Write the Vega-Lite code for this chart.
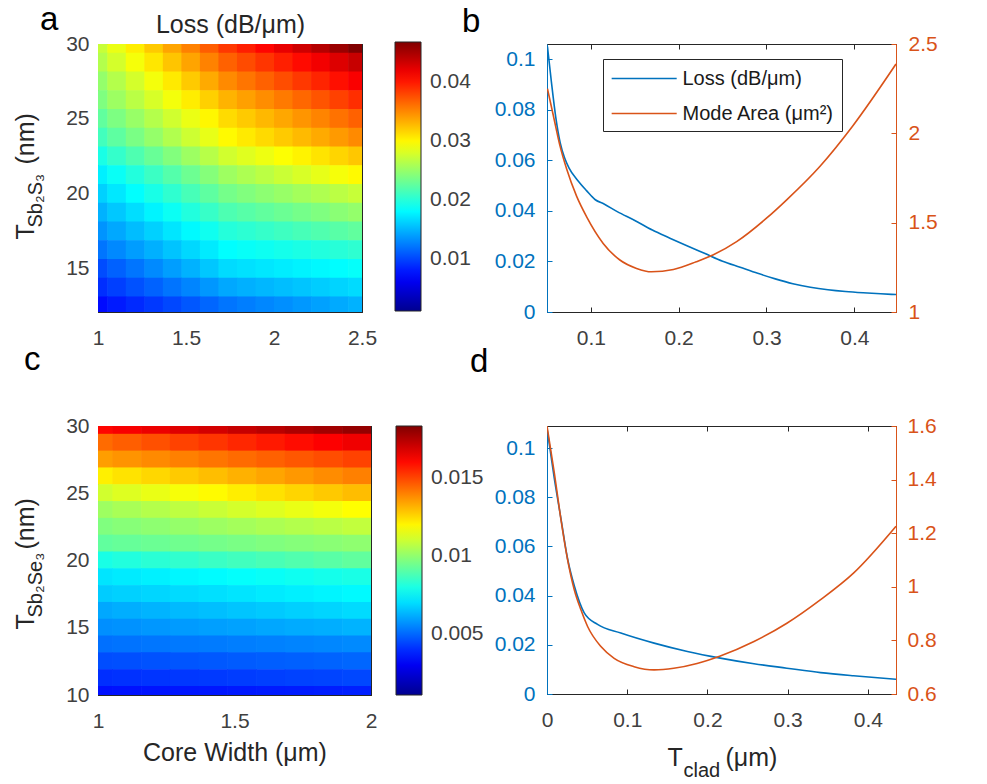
{
"$schema": "https://vega.github.io/schema/vega-lite/v6.json",
"background": "white",
"padding": {"left": 12, "top": 3, "right": 5, "bottom": 0},
"config": {
  "font": "Liberation Sans",
  "view": {"stroke": "#262626", "strokeWidth": 1},
  "axis": {"labelFont": "Liberation Sans", "labelFontSize": 21, "labelColor": "#404040", "titleFont": "Liberation Sans", "titleFontSize": 25, "titleColor": "#262626", "titleFontWeight": "normal", "grid": false, "domainColor": "#262626", "tickColor": "#262626", "tickSize": -5, "zindex": 1, "labelFlush": false, "labelOverlap": false},
  "legend": {"labelFont": "Liberation Sans"},
  "title": {"font": "Liberation Sans", "fontSize": 33, "fontWeight": "normal", "color": "#000000", "anchor": "start", "frame": "group", "baseline": "alphabetic"}
},
"columns": 2,
"align": "each",
"bounds": "flush",
"spacing": {"row": 114, "column": 176},
"resolve": {"scale": {"color": "independent"}, "legend": {"color": "independent"}},
"concat": [
{
  "width": 264, "height": 268,
  "title": {"text": "a", "dx": -58, "offset": -25},
  "data": {"values": [
{"w":1,"t":30,"v":0.02715},{"w":1.105,"t":30,"v":0.02878},{"w":1.211,"t":30,"v":0.03041},{"w":1.316,"t":30,"v":0.03204},{"w":1.421,"t":30,"v":0.03368},{"w":1.526,"t":30,"v":0.03531},{"w":1.632,"t":30,"v":0.03694},{"w":1.737,"t":30,"v":0.03857},{"w":1.842,"t":30,"v":0.03975},{"w":1.947,"t":30,"v":0.04092},{"w":2.053,"t":30,"v":0.0421},{"w":2.158,"t":30,"v":0.04327},{"w":2.263,"t":30,"v":0.04445},{"w":2.368,"t":30,"v":0.04563},{"w":2.474,"t":30,"v":0.0468},
{"w":1,"t":28.75,"v":0.02624},{"w":1.105,"t":28.75,"v":0.02774},{"w":1.211,"t":28.75,"v":0.02924},{"w":1.316,"t":28.75,"v":0.03074},{"w":1.421,"t":28.75,"v":0.03224},{"w":1.526,"t":28.75,"v":0.03375},{"w":1.632,"t":28.75,"v":0.03525},{"w":1.737,"t":28.75,"v":0.03675},{"w":1.842,"t":28.75,"v":0.03773},{"w":1.947,"t":28.75,"v":0.03871},{"w":2.053,"t":28.75,"v":0.03969},{"w":2.158,"t":28.75,"v":0.04066},{"w":2.263,"t":28.75,"v":0.04164},{"w":2.368,"t":28.75,"v":0.04262},{"w":2.474,"t":28.75,"v":0.0436},
{"w":1,"t":27.5,"v":0.02486},{"w":1.105,"t":27.5,"v":0.0263},{"w":1.211,"t":27.5,"v":0.02773},{"w":1.316,"t":27.5,"v":0.02917},{"w":1.421,"t":27.5,"v":0.03061},{"w":1.526,"t":27.5,"v":0.03205},{"w":1.632,"t":27.5,"v":0.03348},{"w":1.737,"t":27.5,"v":0.03492},{"w":1.842,"t":27.5,"v":0.03583},{"w":1.947,"t":27.5,"v":0.03675},{"w":2.053,"t":27.5,"v":0.03766},{"w":2.158,"t":27.5,"v":0.03858},{"w":2.263,"t":27.5,"v":0.03949},{"w":2.368,"t":27.5,"v":0.0404},{"w":2.474,"t":27.5,"v":0.04132},
{"w":1,"t":26.25,"v":0.02395},{"w":1.105,"t":26.25,"v":0.02526},{"w":1.211,"t":26.25,"v":0.02656},{"w":1.316,"t":26.25,"v":0.02787},{"w":1.421,"t":26.25,"v":0.02917},{"w":1.526,"t":26.25,"v":0.03048},{"w":1.632,"t":26.25,"v":0.03179},{"w":1.737,"t":26.25,"v":0.03309},{"w":1.842,"t":26.25,"v":0.03394},{"w":1.947,"t":26.25,"v":0.03479},{"w":2.053,"t":26.25,"v":0.03564},{"w":2.158,"t":26.25,"v":0.03648},{"w":2.263,"t":26.25,"v":0.03733},{"w":2.368,"t":26.25,"v":0.03818},{"w":2.474,"t":26.25,"v":0.03903},
{"w":1,"t":25,"v":0.02258},{"w":1.105,"t":25,"v":0.02382},{"w":1.211,"t":25,"v":0.02506},{"w":1.316,"t":25,"v":0.0263},{"w":1.421,"t":25,"v":0.02754},{"w":1.526,"t":25,"v":0.02878},{"w":1.632,"t":25,"v":0.03002},{"w":1.737,"t":25,"v":0.03126},{"w":1.842,"t":25,"v":0.03204},{"w":1.947,"t":25,"v":0.03283},{"w":2.053,"t":25,"v":0.03361},{"w":2.158,"t":25,"v":0.0344},{"w":2.263,"t":25,"v":0.03518},{"w":2.368,"t":25,"v":0.03597},{"w":2.474,"t":25,"v":0.03675},
{"w":1,"t":23.75,"v":0.02121},{"w":1.105,"t":23.75,"v":0.02245},{"w":1.211,"t":23.75,"v":0.02369},{"w":1.316,"t":23.75,"v":0.02493},{"w":1.421,"t":23.75,"v":0.02617},{"w":1.526,"t":23.75,"v":0.02741},{"w":1.632,"t":23.75,"v":0.02865},{"w":1.737,"t":23.75,"v":0.02989},{"w":1.842,"t":23.75,"v":0.03061},{"w":1.947,"t":23.75,"v":0.03133},{"w":2.053,"t":23.75,"v":0.03205},{"w":2.158,"t":23.75,"v":0.03276},{"w":2.263,"t":23.75,"v":0.03348},{"w":2.368,"t":23.75,"v":0.0342},{"w":2.474,"t":23.75,"v":0.03492},
{"w":1,"t":22.5,"v":0.01938},{"w":1.105,"t":22.5,"v":0.02056},{"w":1.211,"t":22.5,"v":0.02173},{"w":1.316,"t":22.5,"v":0.02291},{"w":1.421,"t":22.5,"v":0.02408},{"w":1.526,"t":22.5,"v":0.02526},{"w":1.632,"t":22.5,"v":0.02643},{"w":1.737,"t":22.5,"v":0.02761},{"w":1.842,"t":22.5,"v":0.02826},{"w":1.947,"t":22.5,"v":0.02891},{"w":2.053,"t":22.5,"v":0.02957},{"w":2.158,"t":22.5,"v":0.03022},{"w":2.263,"t":22.5,"v":0.03087},{"w":2.368,"t":22.5,"v":0.03153},{"w":2.474,"t":22.5,"v":0.03218},
{"w":1,"t":21.25,"v":0.01755},{"w":1.105,"t":21.25,"v":0.01866},{"w":1.211,"t":21.25,"v":0.01977},{"w":1.316,"t":21.25,"v":0.02088},{"w":1.421,"t":21.25,"v":0.02199},{"w":1.526,"t":21.25,"v":0.0231},{"w":1.632,"t":21.25,"v":0.02421},{"w":1.737,"t":21.25,"v":0.02532},{"w":1.842,"t":21.25,"v":0.02597},{"w":1.947,"t":21.25,"v":0.02663},{"w":2.053,"t":21.25,"v":0.02728},{"w":2.158,"t":21.25,"v":0.02793},{"w":2.263,"t":21.25,"v":0.02858},{"w":2.368,"t":21.25,"v":0.02924},{"w":2.474,"t":21.25,"v":0.02989},
{"w":1,"t":20,"v":0.01618},{"w":1.105,"t":20,"v":0.01722},{"w":1.211,"t":20,"v":0.01827},{"w":1.316,"t":20,"v":0.01931},{"w":1.421,"t":20,"v":0.02036},{"w":1.526,"t":20,"v":0.0214},{"w":1.632,"t":20,"v":0.02245},{"w":1.737,"t":20,"v":0.02349},{"w":1.842,"t":20,"v":0.02401},{"w":1.947,"t":20,"v":0.02454},{"w":2.053,"t":20,"v":0.02506},{"w":2.158,"t":20,"v":0.02558},{"w":2.263,"t":20,"v":0.0261},{"w":2.368,"t":20,"v":0.02663},{"w":2.474,"t":20,"v":0.02715},
{"w":1,"t":18.75,"v":0.01481},{"w":1.105,"t":18.75,"v":0.01579},{"w":1.211,"t":18.75,"v":0.01677},{"w":1.316,"t":18.75,"v":0.01775},{"w":1.421,"t":18.75,"v":0.01873},{"w":1.526,"t":18.75,"v":0.01971},{"w":1.632,"t":18.75,"v":0.02069},{"w":1.737,"t":18.75,"v":0.02167},{"w":1.842,"t":18.75,"v":0.02213},{"w":1.947,"t":18.75,"v":0.02258},{"w":2.053,"t":18.75,"v":0.02304},{"w":2.158,"t":18.75,"v":0.02349},{"w":2.263,"t":18.75,"v":0.02395},{"w":2.368,"t":18.75,"v":0.02441},{"w":2.474,"t":18.75,"v":0.02486},
{"w":1,"t":17.5,"v":0.01344},{"w":1.105,"t":17.5,"v":0.01435},{"w":1.211,"t":17.5,"v":0.01527},{"w":1.316,"t":17.5,"v":0.01618},{"w":1.421,"t":17.5,"v":0.0171},{"w":1.526,"t":17.5,"v":0.01801},{"w":1.632,"t":17.5,"v":0.01892},{"w":1.737,"t":17.5,"v":0.01984},{"w":1.842,"t":17.5,"v":0.02023},{"w":1.947,"t":17.5,"v":0.02062},{"w":2.053,"t":17.5,"v":0.02101},{"w":2.158,"t":17.5,"v":0.0214},{"w":2.263,"t":17.5,"v":0.0218},{"w":2.368,"t":17.5,"v":0.02219},{"w":2.474,"t":17.5,"v":0.02258},
{"w":1,"t":16.25,"v":0.01207},{"w":1.105,"t":16.25,"v":0.01295},{"w":1.211,"t":16.25,"v":0.01383},{"w":1.316,"t":16.25,"v":0.01471},{"w":1.421,"t":16.25,"v":0.0156},{"w":1.526,"t":16.25,"v":0.01648},{"w":1.632,"t":16.25,"v":0.01736},{"w":1.737,"t":16.25,"v":0.01824},{"w":1.842,"t":16.25,"v":0.01853},{"w":1.947,"t":16.25,"v":0.01883},{"w":2.053,"t":16.25,"v":0.01912},{"w":2.158,"t":16.25,"v":0.01941},{"w":2.263,"t":16.25,"v":0.01971},{"w":2.368,"t":16.25,"v":0.02},{"w":2.474,"t":16.25,"v":0.02029},
{"w":1,"t":15,"v":0.01024},{"w":1.105,"t":15,"v":0.01115},{"w":1.211,"t":15,"v":0.01207},{"w":1.316,"t":15,"v":0.01298},{"w":1.421,"t":15,"v":0.0139},{"w":1.526,"t":15,"v":0.01481},{"w":1.632,"t":15,"v":0.01572},{"w":1.737,"t":15,"v":0.01664},{"w":1.842,"t":15,"v":0.0169},{"w":1.947,"t":15,"v":0.01716},{"w":2.053,"t":15,"v":0.01742},{"w":2.158,"t":15,"v":0.01768},{"w":2.263,"t":15,"v":0.01795},{"w":2.368,"t":15,"v":0.01821},{"w":2.474,"t":15,"v":0.01847},
{"w":1,"t":13.75,"v":0.00887},{"w":1.105,"t":13.75,"v":0.00965},{"w":1.211,"t":13.75,"v":0.01044},{"w":1.316,"t":13.75,"v":0.01122},{"w":1.421,"t":13.75,"v":0.012},{"w":1.526,"t":13.75,"v":0.01279},{"w":1.632,"t":13.75,"v":0.01357},{"w":1.737,"t":13.75,"v":0.01435},{"w":1.842,"t":13.75,"v":0.01468},{"w":1.947,"t":13.75,"v":0.01501},{"w":2.053,"t":13.75,"v":0.01533},{"w":2.158,"t":13.75,"v":0.01566},{"w":2.263,"t":13.75,"v":0.01599},{"w":2.368,"t":13.75,"v":0.01631},{"w":2.474,"t":13.75,"v":0.01664},
{"w":1,"t":12.5,"v":0.00727},{"w":1.105,"t":12.5,"v":0.00796},{"w":1.211,"t":12.5,"v":0.00864},{"w":1.316,"t":12.5,"v":0.00933},{"w":1.421,"t":12.5,"v":0.01001},{"w":1.526,"t":12.5,"v":0.0107},{"w":1.632,"t":12.5,"v":0.01138},{"w":1.737,"t":12.5,"v":0.01207},{"w":1.842,"t":12.5,"v":0.01246},{"w":1.947,"t":12.5,"v":0.01285},{"w":2.053,"t":12.5,"v":0.01324},{"w":2.158,"t":12.5,"v":0.01363},{"w":2.263,"t":12.5,"v":0.01403},{"w":2.368,"t":12.5,"v":0.01442},{"w":2.474,"t":12.5,"v":0.01481}
  ]},
  "resolve": {"axis": {"x": "independent", "y": "independent"}},
  "layer": [
    {
      "transform": [
        {"bin": {"step": 0.105263, "extent": [0.947368, 2.7], "nice": false}, "field": "w", "as": ["w0", "w1"]},
        {"bin": {"step": 1.25, "extent": [11.875, 31.25], "nice": false}, "field": "t", "as": ["t0", "t1"]}
      ],
      "mark": {"type": "rect", "clip": true, "x2Offset": 0.6, "y2Offset": -0.6},
      "encoding": {
        "x": {"field": "w0", "type": "quantitative", "scale": {"domain": [1, 2.5], "nice": false, "zero": false}, "axis": {"orient": "bottom", "values": [1, 1.5, 2, 2.5], "format": "~g", "title": null, "labelPadding": 20}},
        "x2": {"field": "w1"},
        "y": {"field": "t0", "type": "quantitative", "scale": {"domain": [12.13, 30], "nice": false, "zero": false}, "axis": {"orient": "left", "values": [15, 20, 25, 30], "format": "~g", "labelPadding": 14, "title": "T", "titleX": -65, "titleY": 195, "titleAngle": 270, "titleAlign": "left", "titleBaseline": "alphabetic"}},
        "y2": {"field": "t1"},
        "color": {"field": "v", "type": "quantitative",
          "scale": {"domain": [0.0011, 0.006813, 0.018238, 0.029663, 0.041088, 0.0468], "range": ["#00008F", "#0000FF", "#00FFFF", "#FFFF00", "#FF0000", "#800000"], "interpolate": "rgb"},
          "legend": {"orient": "none", "legendX": 297, "legendY": -2, "direction": "vertical", "gradientLength": 269, "gradientThickness": 26, "title": null, "values": [0.01, 0.02, 0.03, 0.04], "format": "~g", "labelFontSize": 21, "labelColor": "#404040", "labelOffset": 9, "gradientStrokeColor": "#262626", "gradientStrokeWidth": 1, "padding": 0, "labelOverlap": false}}
      }
    },
    {
      "mark": {"type": "point", "opacity": 0},
      "encoding": {
        "x": {"field": "w", "type": "quantitative", "scale": {"domain": [1, 2.5], "nice": false, "zero": false}, "axis": {"orient": "top", "values": [1, 1.5, 2, 2.5], "labels": false, "title": "Loss (dB/μm)", "titleX": 132, "titleY": -12, "titleAlign": "center", "titleBaseline": "alphabetic", "titleAngle": 0}},
        "y": {"field": "t", "type": "quantitative", "scale": {"domain": [12.13, 30], "nice": false, "zero": false}, "axis": {"orient": "right", "values": [15, 20, 25, 30], "labels": false, "title": null}}
      }
    },
    {
      "mark": {"type": "point", "opacity": 0},
      "encoding": {
        "x": {"field": "w", "type": "quantitative", "scale": {"domain": [1, 2.5], "nice": false, "zero": false}, "axis": null},
        "y": {"field": "t", "type": "quantitative", "scale": {"domain": [12.13, 30], "nice": false, "zero": false}, "axis": {"orient": "left", "labels": false, "ticks": false, "domain": false, "title": "Sb₂S₃", "titleX": -57, "titleY": 183, "titleAngle": 270, "titleAlign": "left", "titleBaseline": "alphabetic", "titleFontSize": 20}}
      }
    },
    {
      "mark": {"type": "point", "opacity": 0},
      "encoding": {
        "x": {"field": "w", "type": "quantitative", "scale": {"domain": [1, 2.5], "nice": false, "zero": false}, "axis": null},
        "y": {"field": "t", "type": "quantitative", "scale": {"domain": [12.13, 30], "nice": false, "zero": false}, "axis": {"orient": "left", "labels": false, "ticks": false, "domain": false, "title": "(nm)", "titleX": -65, "titleY": 120, "titleAngle": 270, "titleAlign": "left", "titleBaseline": "alphabetic"}}
      }
    }
  ]
},
{
  "width": 349, "height": 268,
  "title": {"text": "b", "dx": -85, "offset": -6},
  "data": {"values": [
{"s":"Loss (dB/μm)","x":0.0505,"y":0.105},{"s":"Loss (dB/μm)","x":0.055,"y":0.091},{"s":"Loss (dB/μm)","x":0.06,"y":0.077},{"s":"Loss (dB/μm)","x":0.065,"y":0.067},{"s":"Loss (dB/μm)","x":0.07,"y":0.061},{"s":"Loss (dB/μm)","x":0.075,"y":0.057},{"s":"Loss (dB/μm)","x":0.085,"y":0.052},{"s":"Loss (dB/μm)","x":0.095,"y":0.048},{"s":"Loss (dB/μm)","x":0.105,"y":0.0444},{"s":"Loss (dB/μm)","x":0.115,"y":0.0427},{"s":"Loss (dB/μm)","x":0.13,"y":0.0397},{"s":"Loss (dB/μm)","x":0.15,"y":0.0362},{"s":"Loss (dB/μm)","x":0.17,"y":0.0324},{"s":"Loss (dB/μm)","x":0.19,"y":0.0292},{"s":"Loss (dB/μm)","x":0.21,"y":0.0261},{"s":"Loss (dB/μm)","x":0.23,"y":0.0231},{"s":"Loss (dB/μm)","x":0.25,"y":0.0201},{"s":"Loss (dB/μm)","x":0.27,"y":0.0177},{"s":"Loss (dB/μm)","x":0.29,"y":0.0153},{"s":"Loss (dB/μm)","x":0.31,"y":0.0131},{"s":"Loss (dB/μm)","x":0.33,"y":0.0112},{"s":"Loss (dB/μm)","x":0.35,"y":0.0098},{"s":"Loss (dB/μm)","x":0.37,"y":0.0088},{"s":"Loss (dB/μm)","x":0.39,"y":0.0081},{"s":"Loss (dB/μm)","x":0.41,"y":0.0076},{"s":"Loss (dB/μm)","x":0.43,"y":0.0072},{"s":"Loss (dB/μm)","x":0.4475,"y":0.0069},
{"s":"Mode Area (μm²)","x":0.0505,"y":2.25},{"s":"Mode Area (μm²)","x":0.0572,"y":2.1},{"s":"Mode Area (μm²)","x":0.0648,"y":1.93},{"s":"Mode Area (μm²)","x":0.0724,"y":1.8},{"s":"Mode Area (μm²)","x":0.0838,"y":1.647},{"s":"Mode Area (μm²)","x":0.095,"y":1.534},{"s":"Mode Area (μm²)","x":0.114,"y":1.384},{"s":"Mode Area (μm²)","x":0.133,"y":1.291},{"s":"Mode Area (μm²)","x":0.152,"y":1.244},{"s":"Mode Area (μm²)","x":0.169,"y":1.225},{"s":"Mode Area (μm²)","x":0.194,"y":1.238},{"s":"Mode Area (μm²)","x":0.22,"y":1.281},{"s":"Mode Area (μm²)","x":0.239,"y":1.319},{"s":"Mode Area (μm²)","x":0.266,"y":1.394},{"s":"Mode Area (μm²)","x":0.3,"y":1.525},{"s":"Mode Area (μm²)","x":0.323,"y":1.628},{"s":"Mode Area (μm²)","x":0.361,"y":1.816},{"s":"Mode Area (μm²)","x":0.398,"y":2.04},{"s":"Mode Area (μm²)","x":0.4475,"y":2.388}
  ]},
  "resolve": {"scale": {"y": "independent"}, "axis": {"x": "independent", "y": "independent"}},
  "layer": [
    {
      "transform": [{"filter": "datum.s === 'Loss (dB/μm)'"}],
      "mark": {"type": "line", "strokeWidth": 1.6, "interpolate": "monotone", "clip": true},
      "encoding": {
        "x": {"field": "x", "type": "quantitative", "scale": {"domain": [0.05, 0.4475], "nice": false, "zero": false}, "axis": {"orient": "bottom", "values": [0.1, 0.2, 0.3, 0.4], "format": "~g", "title": null, "labelPadding": 20}},
        "y": {"field": "y", "type": "quantitative", "scale": {"domain": [0, 0.106], "nice": false, "zero": false}, "axis": {"orient": "left", "values": [0, 0.02, 0.04, 0.06, 0.08, 0.1], "format": "~g", "title": null, "labelPadding": 17, "labelColor": "#0072BD", "domainColor": "#0072BD", "tickColor": "#0072BD"}},
        "color": {"field": "s", "type": "nominal", "scale": {"domain": ["Loss (dB/μm)", "Mode Area (μm²)"], "range": ["#0072BD", "#D95319"]},
          "legend": {"orient": "none", "legendX": 56, "legendY": 15, "title": null, "symbolType": "M-1,0H5", "symbolSize": 470, "symbolStrokeWidth": 1.5, "labelOffset": 48, "labelFontSize": 20, "labelColor": "#1a1a1a", "padding": 7.5, "rowPadding": 13, "strokeColor": "#262626", "fillColor": "white"}}
      }
    },
    {
      "transform": [{"filter": "datum.s === 'Mode Area (μm²)'"}],
      "mark": {"type": "line", "strokeWidth": 1.6, "interpolate": "monotone", "clip": true, "color": "#D95319"},
      "encoding": {
        "x": {"field": "x", "type": "quantitative", "scale": {"domain": [0.05, 0.4475], "nice": false, "zero": false}, "axis": {"orient": "top", "values": [0.1, 0.2, 0.3, 0.4], "labels": false, "title": null}},
        "y": {"field": "y", "type": "quantitative", "scale": {"domain": [1, 2.5], "nice": false, "zero": false}, "axis": {"orient": "right", "values": [1, 1.5, 2, 2.5], "format": "~g", "title": null, "labelPadding": 17, "labelColor": "#D95319", "domainColor": "#D95319", "tickColor": "#D95319"}}
      }
    }
  ]
},
{
  "width": 273, "height": 269,
  "title": {"text": "c", "dx": -74, "offset": 38},
  "data": {"values": [
{"w":1,"t":30,"v":0.01606},{"w":1.105,"t":30,"v":0.01627},{"w":1.211,"t":30,"v":0.01648},{"w":1.316,"t":30,"v":0.01669},{"w":1.421,"t":30,"v":0.0169},{"w":1.526,"t":30,"v":0.01711},{"w":1.632,"t":30,"v":0.01732},{"w":1.737,"t":30,"v":0.01753},{"w":1.842,"t":30,"v":0.01774},{"w":1.947,"t":30,"v":0.01796},
{"w":1,"t":28.75,"v":0.01434},{"w":1.105,"t":28.75,"v":0.01457},{"w":1.211,"t":28.75,"v":0.0148},{"w":1.316,"t":28.75,"v":0.01503},{"w":1.421,"t":28.75,"v":0.01526},{"w":1.526,"t":28.75,"v":0.01549},{"w":1.632,"t":28.75,"v":0.01572},{"w":1.737,"t":28.75,"v":0.01595},{"w":1.842,"t":28.75,"v":0.01618},{"w":1.947,"t":28.75,"v":0.01641},
{"w":1,"t":27.5,"v":0.01348},{"w":1.105,"t":27.5,"v":0.01366},{"w":1.211,"t":27.5,"v":0.01383},{"w":1.316,"t":27.5,"v":0.014},{"w":1.421,"t":27.5,"v":0.01417},{"w":1.526,"t":27.5,"v":0.01434},{"w":1.632,"t":27.5,"v":0.01452},{"w":1.737,"t":27.5,"v":0.01469},{"w":1.842,"t":27.5,"v":0.01486},{"w":1.947,"t":27.5,"v":0.01503},
{"w":1,"t":26.25,"v":0.01211},{"w":1.105,"t":26.25,"v":0.01232},{"w":1.211,"t":26.25,"v":0.01253},{"w":1.316,"t":26.25,"v":0.01274},{"w":1.421,"t":26.25,"v":0.01295},{"w":1.526,"t":26.25,"v":0.01316},{"w":1.632,"t":26.25,"v":0.01337},{"w":1.737,"t":26.25,"v":0.01358},{"w":1.842,"t":26.25,"v":0.01379},{"w":1.947,"t":26.25,"v":0.014},
{"w":1,"t":25,"v":0.01108},{"w":1.105,"t":25,"v":0.01129},{"w":1.211,"t":25,"v":0.0115},{"w":1.316,"t":25,"v":0.01171},{"w":1.421,"t":25,"v":0.01192},{"w":1.526,"t":25,"v":0.01213},{"w":1.632,"t":25,"v":0.01234},{"w":1.737,"t":25,"v":0.01255},{"w":1.842,"t":25,"v":0.01276},{"w":1.947,"t":25,"v":0.01297},
{"w":1,"t":23.75,"v":0.01022},{"w":1.105,"t":23.75,"v":0.0104},{"w":1.211,"t":23.75,"v":0.01058},{"w":1.316,"t":23.75,"v":0.01076},{"w":1.421,"t":23.75,"v":0.01094},{"w":1.526,"t":23.75,"v":0.01112},{"w":1.632,"t":23.75,"v":0.01131},{"w":1.737,"t":23.75,"v":0.01149},{"w":1.842,"t":23.75,"v":0.01167},{"w":1.947,"t":23.75,"v":0.01185},
{"w":1,"t":22.5,"v":0.0097},{"w":1.105,"t":22.5,"v":0.00982},{"w":1.211,"t":22.5,"v":0.00995},{"w":1.316,"t":22.5,"v":0.01007},{"w":1.421,"t":22.5,"v":0.0102},{"w":1.526,"t":22.5,"v":0.01032},{"w":1.632,"t":22.5,"v":0.01045},{"w":1.737,"t":22.5,"v":0.01057},{"w":1.842,"t":22.5,"v":0.01069},{"w":1.947,"t":22.5,"v":0.01082},
{"w":1,"t":21.25,"v":0.00918},{"w":1.105,"t":21.25,"v":0.00927},{"w":1.211,"t":21.25,"v":0.00936},{"w":1.316,"t":21.25,"v":0.00944},{"w":1.421,"t":21.25,"v":0.00953},{"w":1.526,"t":21.25,"v":0.00961},{"w":1.632,"t":21.25,"v":0.0097},{"w":1.737,"t":21.25,"v":0.00979},{"w":1.842,"t":21.25,"v":0.00987},{"w":1.947,"t":21.25,"v":0.00996},
{"w":1,"t":20,"v":0.00798},{"w":1.105,"t":20,"v":0.00811},{"w":1.211,"t":20,"v":0.00825},{"w":1.316,"t":20,"v":0.00838},{"w":1.421,"t":20,"v":0.00852},{"w":1.526,"t":20,"v":0.00865},{"w":1.632,"t":20,"v":0.00878},{"w":1.737,"t":20,"v":0.00892},{"w":1.842,"t":20,"v":0.00905},{"w":1.947,"t":20,"v":0.00918},
{"w":1,"t":18.75,"v":0.00712},{"w":1.105,"t":18.75,"v":0.00722},{"w":1.211,"t":18.75,"v":0.00731},{"w":1.316,"t":18.75,"v":0.00741},{"w":1.421,"t":18.75,"v":0.0075},{"w":1.526,"t":18.75,"v":0.0076},{"w":1.632,"t":18.75,"v":0.00769},{"w":1.737,"t":18.75,"v":0.00779},{"w":1.842,"t":18.75,"v":0.00788},{"w":1.947,"t":18.75,"v":0.00798},
{"w":1,"t":17.5,"v":0.00669},{"w":1.105,"t":17.5,"v":0.00678},{"w":1.211,"t":17.5,"v":0.00686},{"w":1.316,"t":17.5,"v":0.00695},{"w":1.421,"t":17.5,"v":0.00703},{"w":1.526,"t":17.5,"v":0.00712},{"w":1.632,"t":17.5,"v":0.00721},{"w":1.737,"t":17.5,"v":0.00729},{"w":1.842,"t":17.5,"v":0.00738},{"w":1.947,"t":17.5,"v":0.00746},
{"w":1,"t":16.25,"v":0.00609},{"w":1.105,"t":16.25,"v":0.00618},{"w":1.211,"t":16.25,"v":0.00628},{"w":1.316,"t":16.25,"v":0.00638},{"w":1.421,"t":16.25,"v":0.00647},{"w":1.526,"t":16.25,"v":0.00657},{"w":1.632,"t":16.25,"v":0.00666},{"w":1.737,"t":16.25,"v":0.00676},{"w":1.842,"t":16.25,"v":0.00685},{"w":1.947,"t":16.25,"v":0.00695},
{"w":1,"t":15,"v":0.00566},{"w":1.105,"t":15,"v":0.00572},{"w":1.211,"t":15,"v":0.00579},{"w":1.316,"t":15,"v":0.00586},{"w":1.421,"t":15,"v":0.00593},{"w":1.526,"t":15,"v":0.00599},{"w":1.632,"t":15,"v":0.00606},{"w":1.737,"t":15,"v":0.00613},{"w":1.842,"t":15,"v":0.00619},{"w":1.947,"t":15,"v":0.00626},
{"w":1,"t":13.75,"v":0.00514},{"w":1.105,"t":13.75,"v":0.00519},{"w":1.211,"t":13.75,"v":0.00524},{"w":1.316,"t":13.75,"v":0.00529},{"w":1.421,"t":13.75,"v":0.00533},{"w":1.526,"t":13.75,"v":0.00538},{"w":1.632,"t":13.75,"v":0.00543},{"w":1.737,"t":13.75,"v":0.00548},{"w":1.842,"t":13.75,"v":0.00553},{"w":1.947,"t":13.75,"v":0.00557},
{"w":1,"t":12.5,"v":0.00454},{"w":1.105,"t":12.5,"v":0.00459},{"w":1.211,"t":12.5,"v":0.00464},{"w":1.316,"t":12.5,"v":0.00468},{"w":1.421,"t":12.5,"v":0.00473},{"w":1.526,"t":12.5,"v":0.00478},{"w":1.632,"t":12.5,"v":0.00483},{"w":1.737,"t":12.5,"v":0.00487},{"w":1.842,"t":12.5,"v":0.00492},{"w":1.947,"t":12.5,"v":0.00497},
{"w":1,"t":11.25,"v":0.00402},{"w":1.105,"t":11.25,"v":0.00407},{"w":1.211,"t":11.25,"v":0.00412},{"w":1.316,"t":11.25,"v":0.00417},{"w":1.421,"t":11.25,"v":0.00421},{"w":1.526,"t":11.25,"v":0.00426},{"w":1.632,"t":11.25,"v":0.00431},{"w":1.737,"t":11.25,"v":0.00436},{"w":1.842,"t":11.25,"v":0.0044},{"w":1.947,"t":11.25,"v":0.00445},
{"w":1,"t":10,"v":0.00351},{"w":1.105,"t":10,"v":0.00354},{"w":1.211,"t":10,"v":0.00357},{"w":1.316,"t":10,"v":0.0036},{"w":1.421,"t":10,"v":0.00362},{"w":1.526,"t":10,"v":0.00365},{"w":1.632,"t":10,"v":0.00368},{"w":1.737,"t":10,"v":0.00371},{"w":1.842,"t":10,"v":0.00374},{"w":1.947,"t":10,"v":0.00377}
  ]},
  "resolve": {"axis": {"x": "independent", "y": "independent"}},
  "layer": [
    {
      "transform": [
        {"bin": {"step": 0.105263, "extent": [0.947368, 2.2], "nice": false}, "field": "w", "as": ["w0", "w1"]},
        {"bin": {"step": 1.25, "extent": [9.375, 31.25], "nice": false}, "field": "t", "as": ["t0", "t1"]}
      ],
      "mark": {"type": "rect", "clip": true, "x2Offset": 0.6, "y2Offset": -0.6},
      "encoding": {
        "x": {"field": "w0", "type": "quantitative", "scale": {"domain": [1, 2], "nice": false, "zero": false}, "axis": {"orient": "bottom", "values": [1, 1.5, 2], "format": "~g", "labelPadding": 20, "title": "Core Width (μm)", "titleX": 136.5, "titleY": 65, "titleAlign": "center", "titleBaseline": "alphabetic", "titleAngle": 0}},
        "x2": {"field": "w1"},
        "y": {"field": "t0", "type": "quantitative", "scale": {"domain": [10, 30], "nice": false, "zero": false}, "axis": {"orient": "left", "values": [10, 15, 20, 25, 30], "format": "~g", "labelPadding": 14, "title": "T", "titleX": -65, "titleY": 203, "titleAngle": 270, "titleAlign": "left", "titleBaseline": "alphabetic"}},
        "y2": {"field": "t1"},
        "color": {"field": "v", "type": "quantitative",
          "scale": {"domain": [0.0011, 0.00325, 0.00755, 0.01185, 0.01615, 0.0183], "range": ["#00008F", "#0000FF", "#00FFFF", "#FFFF00", "#FF0000", "#800000"], "interpolate": "rgb"},
          "legend": {"orient": "none", "legendX": 298, "legendY": 0, "direction": "vertical", "gradientLength": 269, "gradientThickness": 26, "title": null, "values": [0.005, 0.01, 0.015], "format": "~g", "labelFontSize": 21, "labelColor": "#404040", "labelOffset": 9, "gradientStrokeColor": "#262626", "gradientStrokeWidth": 1, "padding": 0, "labelOverlap": false}}
      }
    },
    {
      "mark": {"type": "point", "opacity": 0},
      "encoding": {
        "x": {"field": "w", "type": "quantitative", "scale": {"domain": [1, 2], "nice": false, "zero": false}, "axis": {"orient": "top", "values": [1, 1.5, 2], "labels": false, "title": null}},
        "y": {"field": "t", "type": "quantitative", "scale": {"domain": [10, 30], "nice": false, "zero": false}, "axis": {"orient": "right", "values": [10, 15, 20, 25, 30], "labels": false, "title": null}}
      }
    },
    {
      "mark": {"type": "point", "opacity": 0},
      "encoding": {
        "x": {"field": "w", "type": "quantitative", "scale": {"domain": [1, 2], "nice": false, "zero": false}, "axis": null},
        "y": {"field": "t", "type": "quantitative", "scale": {"domain": [10, 30], "nice": false, "zero": false}, "axis": {"orient": "left", "labels": false, "ticks": false, "domain": false, "title": "Sb₂Se₃", "titleX": -57, "titleY": 191, "titleAngle": 270, "titleAlign": "left", "titleBaseline": "alphabetic", "titleFontSize": 20}}
      }
    },
    {
      "mark": {"type": "point", "opacity": 0},
      "encoding": {
        "x": {"field": "w", "type": "quantitative", "scale": {"domain": [1, 2], "nice": false, "zero": false}, "axis": null},
        "y": {"field": "t", "type": "quantitative", "scale": {"domain": [10, 30], "nice": false, "zero": false}, "axis": {"orient": "left", "labels": false, "ticks": false, "domain": false, "title": "(nm)", "titleX": -65, "titleY": 123, "titleAngle": 270, "titleAlign": "left", "titleBaseline": "alphabetic"}}
      }
    }
  ]
},
{
  "width": 349, "height": 268,
  "title": {"text": "d", "dx": -77, "offset": 36},
  "data": {"values": [
{"s":"loss","x":0,"y":0.108},{"s":"loss","x":0.0091,"y":0.0877},{"s":"loss","x":0.0174,"y":0.0713},{"s":"loss","x":0.0257,"y":0.0549},{"s":"loss","x":0.034,"y":0.044},{"s":"loss","x":0.0464,"y":0.033},{"s":"loss","x":0.063,"y":0.0283},{"s":"loss","x":0.092,"y":0.0248},{"s":"loss","x":0.1335,"y":0.0207},{"s":"loss","x":0.175,"y":0.0173},{"s":"loss","x":0.216,"y":0.0146},{"s":"loss","x":0.258,"y":0.0123},{"s":"loss","x":0.299,"y":0.0105},{"s":"loss","x":0.341,"y":0.0087},{"s":"loss","x":0.382,"y":0.0074},{"s":"loss","x":0.435,"y":0.006},
{"s":"area","x":0,"y":1.6},{"s":"area","x":0.0091,"y":1.425},{"s":"area","x":0.0174,"y":1.251},{"s":"area","x":0.0257,"y":1.101},{"s":"area","x":0.034,"y":0.989},{"s":"area","x":0.0423,"y":0.914},{"s":"area","x":0.0506,"y":0.852},{"s":"area","x":0.0672,"y":0.777},{"s":"area","x":0.0837,"y":0.733},{"s":"area","x":0.1086,"y":0.702},{"s":"area","x":0.1335,"y":0.69},{"s":"area","x":0.158,"y":0.696},{"s":"area","x":0.187,"y":0.714},{"s":"area","x":0.216,"y":0.742},{"s":"area","x":0.258,"y":0.796},{"s":"area","x":0.299,"y":0.864},{"s":"area","x":0.341,"y":0.952},{"s":"area","x":0.382,"y":1.051},{"s":"area","x":0.435,"y":1.226}
  ]},
  "resolve": {"scale": {"y": "independent"}, "axis": {"x": "independent", "y": "independent"}},
  "layer": [
    {
      "transform": [{"filter": "datum.s === 'loss'"}],
      "mark": {"type": "line", "strokeWidth": 1.6, "interpolate": "monotone", "clip": true, "color": "#0072BD"},
      "encoding": {
        "x": {"field": "x", "type": "quantitative", "scale": {"domain": [0, 0.435], "nice": false, "zero": false}, "axis": {"orient": "bottom", "values": [0, 0.1, 0.2, 0.3, 0.4], "format": "~g", "labelPadding": 20, "title": "T", "titleX": 120, "titleY": 71, "titleAlign": "left", "titleBaseline": "alphabetic", "titleAngle": 0}},
        "y": {"field": "y", "type": "quantitative", "scale": {"domain": [0, 0.109], "nice": false, "zero": false}, "axis": {"orient": "left", "values": [0, 0.02, 0.04, 0.06, 0.08, 0.1], "format": "~g", "title": null, "labelPadding": 17, "labelColor": "#0072BD", "domainColor": "#0072BD", "tickColor": "#0072BD"}}
      }
    },
    {
      "transform": [{"filter": "datum.s === 'area'"}],
      "mark": {"type": "line", "strokeWidth": 1.6, "interpolate": "monotone", "clip": true, "color": "#D95319"},
      "encoding": {
        "x": {"field": "x", "type": "quantitative", "scale": {"domain": [0, 0.435], "nice": false, "zero": false}, "axis": {"orient": "top", "values": [0, 0.1, 0.2, 0.3, 0.4], "labels": false, "title": null}},
        "y": {"field": "y", "type": "quantitative", "scale": {"domain": [0.6, 1.6], "nice": false, "zero": false}, "axis": {"orient": "right", "values": [0.6, 0.8, 1, 1.2, 1.4, 1.6], "format": "~g", "title": null, "labelPadding": 16, "labelColor": "#D95319", "domainColor": "#D95319", "tickColor": "#D95319"}}
      }
    },
    {
      "mark": {"type": "point", "opacity": 0},
      "encoding": {
        "x": {"field": "x", "type": "quantitative", "scale": {"domain": [0, 0.435], "nice": false, "zero": false}, "axis": {"orient": "bottom", "labels": false, "ticks": false, "domain": false, "title": "clad", "titleX": 136, "titleY": 82, "titleAlign": "left", "titleBaseline": "alphabetic", "titleAngle": 0, "titleFontSize": 20}},
        "y": {"field": "y", "type": "quantitative", "axis": null}
      }
    },
    {
      "mark": {"type": "point", "opacity": 0},
      "encoding": {
        "x": {"field": "x", "type": "quantitative", "scale": {"domain": [0, 0.435], "nice": false, "zero": false}, "axis": {"orient": "bottom", "labels": false, "ticks": false, "domain": false, "title": "(μm)", "titleX": 178, "titleY": 71, "titleAlign": "left", "titleBaseline": "alphabetic", "titleAngle": 0}},
        "y": {"field": "y", "type": "quantitative", "axis": null}
      }
    }
  ]
}
]
}
